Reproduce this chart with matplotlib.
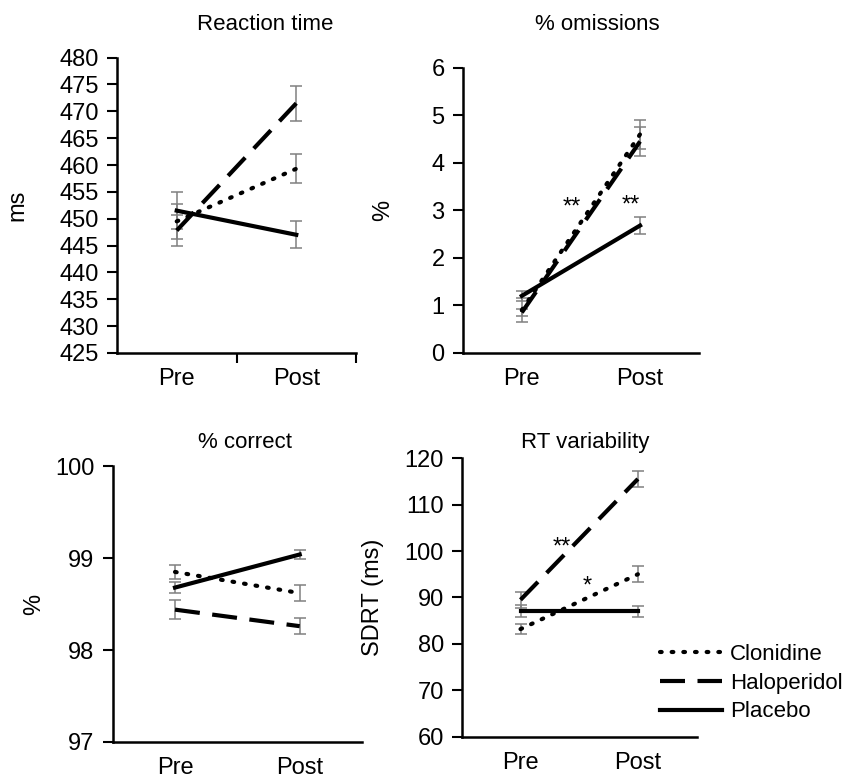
import numpy as np
import matplotlib.pyplot as plt

plt.rcParams['font.family'] = ['Liberation Sans', 'DejaVu Sans']

groups = ['Clonidine', 'Haloperidol', 'Placebo']
phases = ['Pre', 'Post']

# Reaction time (ms)
rt_mean = {'Clonidine': [449.5, 459.3], 'Haloperidol': [447.8, 471.5], 'Placebo': [451.5, 447.0]}
rt_err = {'Clonidine': [3.3, 2.7], 'Haloperidol': [2.8, 3.3], 'Placebo': [3.5, 2.5]}

# % omissions
om_mean = {'Clonidine': [0.9, 4.6], 'Haloperidol': [0.85, 4.45], 'Placebo': [1.2, 2.68]}
om_err = {'Clonidine': [0.25, 0.3], 'Haloperidol': [0.08, 0.3], 'Placebo': [0.1, 0.18]}

# % correct
pc_mean = {'Clonidine': [98.85, 98.62], 'Haloperidol': [98.44, 98.26], 'Placebo': [98.68, 99.04]}
pc_err = {'Clonidine': [0.08, 0.09], 'Haloperidol': [0.1, 0.09], 'Placebo': [0.06, 0.05]}

# RT variability (SDRT, ms)
sd_mean = {'Clonidine': [83.2, 95.0], 'Haloperidol': [89.5, 115.5], 'Placebo': [87.0, 87.0]}
sd_err = {'Clonidine': [1.0, 1.7], 'Haloperidol': [1.7, 1.8], 'Placebo': [1.3, 1.2]}

styles = {
    'Clonidine': dict(linestyle=(0, (0.4, 2.4)), dash_capstyle='round'),
    'Haloperidol': dict(linestyle=(0, (6, 3))),
    'Placebo': dict(linestyle='-'),
}

FS = 17

fig = plt.figure(figsize=(8.6, 7.79), dpi=100)

panels = [
    # rect, means, errs, ylim, yticks, ylabel, title, title pos, mid tick
    ([0.136, 0.547, 0.278, 0.379], rt_mean, rt_err, (425, 480), np.arange(425, 481, 5), 'ms',
     'Reaction time', (0.308, 0.968), True),
    ([0.538, 0.547, 0.275, 0.366], om_mean, om_err, (0, 6), np.arange(0, 7, 1), '%',
     '% omissions', (0.695, 0.968), False),
    ([0.131, 0.0475, 0.290, 0.354], pc_mean, pc_err, (97, 100), np.arange(97, 101, 1), '%',
     '% correct', (0.285, 0.432), False),
    ([0.537, 0.054, 0.273, 0.358], sd_mean, sd_err, (60, 120), np.arange(60, 121, 10), 'SDRT (ms)',
     'RT variability', (0.680, 0.432), False),
]

axes = []
x = np.arange(len(phases))
for rect, means, errs, ylim, yticks, ylabel, title, tpos, midtick in panels:
    ax = fig.add_axes(rect)
    for g in groups:
        ax.errorbar(x, means[g], yerr=errs[g], fmt='none', ecolor='#808080',
                    elinewidth=1.1, capsize=4.5, capthick=1.1, zorder=2)
        ax.plot(x, means[g], color='black', linewidth=3.0, label=g, zorder=3, **styles[g])
    ax.set_xlim(-0.5, 1.5)
    ax.set_ylim(*ylim)
    ax.set_yticks(yticks)
    ax.set_xticks(x)
    ax.set_xticklabels(phases)
    ax.tick_params(axis='x', length=0, labelsize=FS, pad=11)
    ax.tick_params(axis='y', length=7, width=1.5, direction='out', labelsize=FS, pad=6)
    if midtick:
        ax.set_xticks([0.5, 1.5], minor=True)
        ax.tick_params(axis='x', which='minor', length=7, width=1.5, direction='out')
    for s in ['top', 'right']:
        ax.spines[s].set_visible(False)
    for s in ['left', 'bottom']:
        ax.spines[s].set_linewidth(1.8)
    ax.set_ylabel(ylabel, fontsize=FS)
    fig.text(tpos[0], tpos[1], title, ha='center', va='center', fontsize=16)
    axes.append(ax)

axes[0].yaxis.set_label_coords(-0.37, 0.5)
axes[1].yaxis.set_label_coords(-0.29, 0.5)
axes[2].yaxis.set_label_coords(-0.27, 0.5)
axes[3].yaxis.set_label_coords(-0.33, 0.5)

# significance markers
axes[1].text(0.42, 3.05, '**', ha='center', va='center', fontsize=17)
axes[1].text(0.92, 3.1, '**', ha='center', va='center', fontsize=17)
axes[3].text(0.35, 100.8, '**', ha='center', va='center', fontsize=17)
axes[3].text(0.57, 92.3, '*', ha='center', va='center', fontsize=17)

handles, labels = axes[3].get_legend_handles_labels()
fig.legend(handles, labels, loc='center left', bbox_to_anchor=(0.757, 0.123),
           frameon=False, fontsize=16, handlelength=2.8, handletextpad=0.35,
           labelspacing=0.35, borderaxespad=0)

plt.savefig('out.png', dpi=100)
